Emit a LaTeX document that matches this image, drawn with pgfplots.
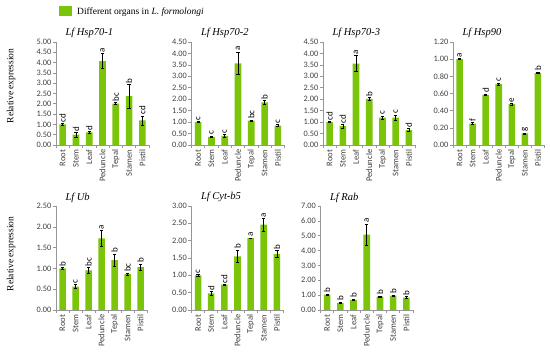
\documentclass[border=0pt]{standalone}
\usepackage{pgfplots}
\usepackage{pgfplotstable}
\pgfplotsset{compat=1.18}
\usepackage{fontspec}
\setmainfont{Liberation Serif}
\newfontfamily\carl{Carlito}
\definecolor{lfgreen}{RGB}{122,196,10}
\definecolor{tickgray}{RGB}{64,64,64}
\definecolor{axgray}{RGB}{150,150,150}

\pgfplotstableread{
x y e l
0 1.00 0.03 cd
1 0.50 0.12 d
2 0.61 0.05 d
3 4.07 0.37 a
4 2.01 0.05 bc
5 2.37 0.57 b
6 1.19 0.22 cd
}\tA
\pgfplotstableread{
x y e l
0 1.00 0.03 c
1 0.36 0.03 c
2 0.40 0.05 c
3 3.57 0.50 a
4 1.07 0.02 bc
5 1.86 0.09 b
6 0.85 0.05 c
}\tB
\pgfplotstableread{
x y e l
0 1.00 0.02 cd
1 0.82 0.07 cd
2 3.55 0.35 a
3 2.02 0.06 b
4 1.20 0.07 c
5 1.20 0.11 c
6 0.65 0.07 d
}\tC
\pgfplotstableread{
x y e l
0 1.00 0.005 a
1 0.25 0.01 f
2 0.585 0.01 d
3 0.71 0.012 c
4 0.475 0.008 e
5 0.135 0.005 g
6 0.84 0.01 b
}\tD
\pgfplotstableread{
x y e l
0 1.00 0.02 b
1 0.56 0.05 c
2 0.95 0.07 bc
3 1.72 0.19 a
4 1.20 0.15 b
5 0.86 0.03 bc
6 1.03 0.08 b
}\tE
\pgfplotstableread{
x y e l
0 1.00 0.02 c
1 0.48 0.05 d
2 0.73 0.01 cd
3 1.55 0.18 b
4 2.07 0.01 a
5 2.46 0.18 a
6 1.61 0.10 b
}\tF
\pgfplotstableread{
x y e l
0 1.04 0.04 b
1 0.48 0.06 b
2 0.68 0.05 b
3 5.08 0.70 a
4 0.90 0.05 b
5 0.96 0.05 b
6 0.84 0.05 b
}\tG

\pgfplotsset{
  panel/.style={
    scale only axis, anchor=south west, clip=false,
    xmin=-0.5, xmax=6.5, ymin=0,
    axis x line*=bottom, axis y line*=left,
    axis line style={-, draw=axgray, line width=0.6pt},
    xtick={0,...,6},
    xticklabels={Root,Stem,Leaf,Peduncle,Tepal,Stamen,Pistil},
    major x tick style={draw=none},
    minor xtick={-0.5,0.5,1.5,2.5,3.5,4.5,5.5,6.5},
    minor x tick style={draw=axgray, line width=0.6pt},
    y tick style={draw=axgray, line width=0.6pt},
    tick align=outside, major tick length=3pt, minor tick length=3pt,
    x tick label style={rotate=90, anchor=east, font=\carl\fontsize{8.6}{9}\selectfont, text=tickgray, inner sep=1.5pt},
    y tick label style={font=\carl\fontsize{8.3}{9}\selectfont, text=tickgray, inner sep=1.5pt},
    /pgf/number format/assume math mode=true,
    yticklabel style={/pgf/number format/.cd, fixed, fixed zerofill, precision=2},
    scaled y ticks=false,
  },
  barplot/.style={ybar, bar width=0.5, fill=lfgreen, draw=none,
    error bars/.cd, y dir=both, y explicit, error mark=none,
    error bar style={draw=black, line width=0.6pt}},
  caps/.style={only marks, mark=-, mark size=1.6pt, mark options={draw=black, line width=0.6pt}},
  letters/.style={draw=none, mark=none, nodes near coords, point meta=explicit symbolic,
    nodes near coords style={rotate=90, anchor=west, inner sep=1pt, font=\carl\fontsize{9}{10}\selectfont, text=black}},
}
\newcommand{\ptitle}[1]{\node[anchor=base west, xshift=6pt, yshift=6pt, font=\itshape\fontsize{10.5}{12}\selectfont] at (rel axis cs:0,1) {#1};}
\newcommand{\panelplots}[1]{%
\addplot[barplot] table[x=x,y=y,y error=e] {#1};
\addplot[caps] table[x=x, y expr=\thisrow{y}+\thisrow{e}] {#1};
\addplot[caps] table[x=x, y expr=\thisrow{y}-\thisrow{e}] {#1};
\addplot[letters] table[x=x, y expr=\thisrow{y}+\thisrow{e}, meta=l] {#1};
}

\begin{document}
\begin{tikzpicture}
\path[use as bounding box] (0,0) rectangle (550pt,-352pt);

\fill[lfgreen] (59pt,-6pt) rectangle (72pt,-16pt);
\node[anchor=base west, inner sep=0pt, font=\fontsize{9.5}{11}\selectfont] at (77pt,-14.5pt) {Different organs in \textit{L. formolongi}};

\node[rotate=90, font=\fontsize{9.5}{10}\selectfont] at (11pt,-86pt) {Relative expression};
\node[rotate=90, font=\fontsize{9.5}{10}\selectfont] at (11pt,-254pt) {Relative expression};

\begin{axis}[panel, at={(56pt,-145pt)}, width=93pt, height=103pt, ymax=5, ytick={0,0.5,...,5}]
\panelplots{\tA}
\ptitle{Lf Hsp70-1}
\end{axis}

\begin{axis}[panel, at={(191.5pt,-145pt)}, width=93pt, height=103pt, ymax=4.5, ytick={0,0.5,...,4.5}]
\panelplots{\tB}
\ptitle{Lf Hsp70-2}
\end{axis}

\begin{axis}[panel, at={(323pt,-145pt)}, width=92.5pt, height=103pt, ymax=4.5, ytick={0,0.5,...,4.5}]
\panelplots{\tC}
\ptitle{Lf Hsp70-3}
\end{axis}

\begin{axis}[panel, at={(453pt,-145pt)}, width=91.5pt, height=103pt, ymax=1.2, ytick={0,0.2,0.4,0.6,0.8,1.0,1.2}]
\panelplots{\tD}
\ptitle{Lf Hsp90}
\end{axis}

\begin{axis}[panel, at={(56pt,-310pt)}, width=91pt, height=104pt, ymax=2.5, ytick={0,0.5,...,2.5}]
\panelplots{\tE}
\ptitle{Lf Ub}
\end{axis}

\begin{axis}[panel, at={(191.5pt,-310pt)}, width=92pt, height=104pt, ymax=3, ytick={0,0.5,...,3}]
\panelplots{\tF}
\ptitle{Lf Cyt-b5}
\end{axis}

\begin{axis}[panel, at={(320.5pt,-310pt)}, width=92.5pt, height=104pt, ymax=7, ytick={0,1,...,7}]
\panelplots{\tG}
\ptitle{Lf Rab}
\end{axis}
\end{tikzpicture}
\end{document}
